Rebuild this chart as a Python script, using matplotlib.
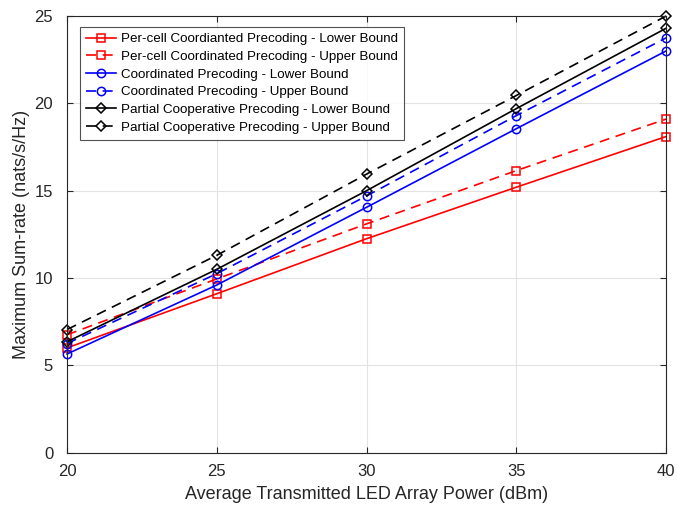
import matplotlib
matplotlib.use("Agg")
import matplotlib.pyplot as plt

plt.rcParams['font.family'] = ['Liberation Sans', 'DejaVu Sans']

power = [20, 25, 30, 35, 40]
percell_lower = [6.0, 9.1, 12.25, 15.2, 18.1]
percell_upper = [6.75, 9.95, 13.1, 16.15, 19.1]
coord_lower = [5.65, 9.6, 14.05, 18.55, 23.0]
coord_upper = [6.25, 10.25, 14.7, 19.3, 23.75]
partial_lower = [6.35, 10.5, 15.0, 19.7, 24.3]
partial_upper = [7.05, 11.3, 15.95, 20.45, 25.0]

labels = [
    'Per-cell Coordianted Precoding - Lower Bound',
    'Per-cell Coordinated Precoding - Upper Bound',
    'Coordinated Precoding - Lower Bound',
    'Coordinated Precoding - Upper Bound',
    'Partial Cooperative Precoding - Lower Bound',
    'Partial Cooperative Precoding - Upper Bound',
]

fig = plt.figure(figsize=(6.77, 5.16), dpi=100)
ax = fig.add_axes([0.099, 0.1227, 0.885, 0.8463])

series = [
    (percell_lower, '#ff0000', '-', 's'),
    (percell_upper, '#ff0000', '--', 's'),
    (coord_lower, '#0000ff', '-', 'o'),
    (coord_upper, '#0000ff', '--', 'o'),
    (partial_lower, '#000000', '-', 'D'),
    (partial_upper, '#000000', '--', 'D'),
]
for (vals, c, ls, m), lab in zip(series, labels):
    ax.plot(power, vals, color=c, linestyle=ls, marker=m, markerfacecolor='none',
            markeredgecolor=c, markersize=6 if m != 'D' else 5.2, linewidth=1.2,
            markeredgewidth=1.1,
            dashes=(6, 4) if ls == '--' else (None, None), label=lab, clip_on=False)

ax.set_xlim(20, 40)
ax.set_ylim(0, 25)
ax.set_xticks([20, 25, 30, 35, 40])
ax.set_yticks([0, 5, 10, 15, 20, 25])
ax.grid(True, color='#e3e3e3', linewidth=0.8)
ax.set_axisbelow(True)
ax.tick_params(direction='in', labelsize=12, length=4, colors='#262626', top=True, right=True)
ax.tick_params(axis='y', pad=10)
ax.tick_params(axis='x', pad=8)
for s in ax.spines.values():
    s.set_color('#262626')
    s.set_linewidth(0.8)
ax.set_xlabel('Average Transmitted LED Array Power (dBm)', fontsize=13, color='#262626', labelpad=5)
ax.set_ylabel('Maximum Sum-rate (nats/s/Hz)', fontsize=13, color='#262626', labelpad=3)

leg = ax.legend(loc='upper left', fontsize=9.6, frameon=True, fancybox=False,
                edgecolor='#262626', bbox_to_anchor=(0.022, 0.975), borderaxespad=0,
                handlelength=2.2, labelspacing=0.4, borderpad=0.45, handletextpad=0.4)
leg.get_frame().set_linewidth(0.8)

fig.savefig('out.png', dpi=100)
